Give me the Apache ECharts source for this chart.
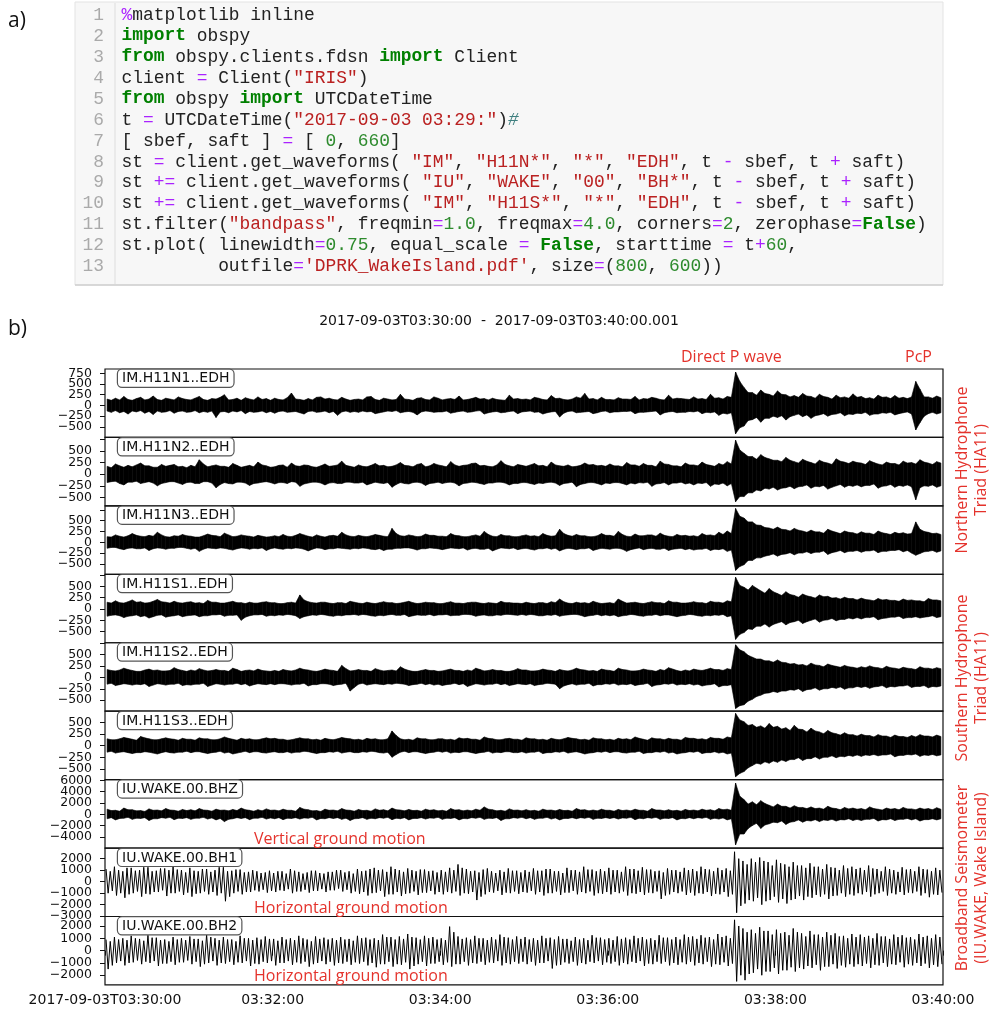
<!DOCTYPE html>
<html>
<head>
<meta charset="utf-8">
<script src="https://cdn.jsdelivr.net/npm/echarts@6/dist/echarts.min.js"></script>
<style>
  body { margin: 0; background: #fff; }
  #main { width: 995px; height: 1011px; }
</style>
</head>
<body>
<div id="main"></div>
<script>
// bin width of the envelope arrays (seconds after 03:30:00)
const binSec = 3;

const stations = ['IM.H11N1..EDH', 'IM.H11N2..EDH', 'IM.H11N3..EDH', 'IM.H11S1..EDH', 'IM.H11S2..EDH',
  'IM.H11S3..EDH', 'IU.WAKE.00.BHZ', 'IU.WAKE.00.BH1', 'IU.WAKE.00.BH2'];
// hydrophones and BHZ look like a solid band, the horizontals like single wiggles
const drawAsBand = [true, true, true, true, true, true, true, false, false];

// y extents of each panel
const yMins = [-745, -680, -740, -745, -740, -735, -5980, -3030, -2790];
const yMaxs = [850, 790, 840, 765, 755, 748, 6120, 2920, 2770];
// tick values and labelled ticks
const hydroTicks = [-750, -500, -250, 0, 250, 500, 750];
const bhzTicks = [-6000, -4000, -2000, 0, 2000, 4000, 6000];
const bhTicks = [-3000, -2000, -1000, 0, 1000, 2000, 3000];
const yTicks = [hydroTicks, hydroTicks, hydroTicks, hydroTicks, hydroTicks, hydroTicks, bhzTicks, bhTicks, bhTicks];
const yLabels = [
  [750, 500, 250, 0, -250, -500],
  [500, 250, 0, -250, -500],
  [500, 250, 0, -250, -500],
  [500, 250, 0, -250, -500],
  [500, 250, 0, -250, -500],
  [500, 250, 0, -250, -500],
  [6000, 4000, 2000, 0, -2000, -4000],
  [2000, 1000, 0, -1000, -2000, -3000],
  [2000, 1000, 0, -1000, -2000]
];
const xTickSeconds = [0, 120, 240, 360, 480, 600];
const xTickLabels = ['2017-09-03T03:30:00', '03:32:00', '03:34:00', '03:36:00', '03:38:00', '03:40:00'];

// envelope (max / min per 3 s bin), one row = 60 s
const n1Hi = [
  150,120,170,130,210,140,120,160,190,130,150,220,140,120,170,150,130,200,160,140,
  130,170,210,140,120,160,150,190,250,130,140,170,120,180,150,130,200,140,160,120,
  170,140,130,180,290,150,140,120,160,130,190,200,150,170,140,130,190,150,120,140,
  150,130,200,210,140,120,170,150,130,140,260,150,140,120,170,180,140,130,200,170,
  130,150,160,140,220,130,140,160,190,150,160,130,170,140,130,120,240,150,160,140,
  150,130,190,170,140,130,230,160,170,140,130,150,200,170,280,150,160,130,190,140,
  140,130,180,150,150,140,210,130,160,150,190,170,140,130,240,150,170,160,150,140,
  200,150,160,140,260,170,180,150,210,190,780,560,420,300,300,240,360,280,260,220,
  340,260,250,200,230,190,280,220,210,170,260,210,190,150,240,180,200,170,270,190,
  210,160,180,150,240,190,200,160,230,170,190,160,200,560,380,200,200,170,220,180];
const n1Lo = [
  -130,-160,-120,-170,-140,-200,-130,-150,-120,-180,-140,-210,-130,-160,-150,-120,-180,-140,-130,-160,
  -150,-120,-170,-140,-160,-130,-280,-150,-140,-170,-130,-150,-120,-190,-140,-160,-150,-130,-170,-140,
  -180,-140,-130,-160,-150,-140,-170,-200,-140,-130,-160,-150,-130,-170,-140,-230,-150,-130,-160,-140,
  -160,-130,-150,-140,-190,-170,-150,-130,-140,-120,-170,-150,-140,-160,-220,-150,-130,-140,-160,-150,
  -150,-130,-180,-160,-140,-130,-160,-150,-130,-120,-200,-170,-150,-140,-170,-160,-140,-130,-190,-150,
  -140,-130,-160,-150,-200,-170,-150,-140,-270,-180,-140,-130,-170,-160,-150,-140,-190,-170,-140,-130,
  -170,-150,-150,-140,-140,-130,-190,-160,-160,-150,-140,-130,-220,-170,-150,-140,-170,-160,-160,-140,
  -150,-130,-190,-160,-170,-150,-230,-180,-200,-170,-660,-520,-480,-350,-330,-280,-390,-300,-300,-250,
  -280,-240,-340,-260,-230,-200,-260,-220,-300,-240,-220,-190,-250,-210,-200,-170,-240,-200,-210,-180,
  -190,-160,-230,-200,-200,-170,-180,-160,-220,-190,-170,-150,-200,-570,-400,-250,-190,-160,-200,-170];

const n2Hi = [
  170,140,220,180,150,190,160,200,240,180,180,150,150,210,170,190,210,160,170,140,
  190,160,310,220,160,180,200,170,170,150,230,190,150,170,190,160,260,200,180,150,
  160,190,200,150,240,180,170,200,190,160,150,180,220,170,180,200,280,190,170,150,
  200,170,160,190,230,180,190,160,170,200,250,190,180,160,210,230,160,180,230,200,
  180,160,270,200,170,190,200,230,240,180,190,170,160,200,290,210,180,160,210,190,
  170,200,230,180,190,160,260,200,180,170,200,160,170,190,240,200,210,180,190,170,
  220,180,180,160,250,200,200,170,230,190,190,160,280,220,210,180,180,160,240,200,
  200,180,260,210,190,170,230,200,270,220,730,520,450,380,380,320,420,360,330,300,
  300,270,360,300,270,240,320,280,250,220,300,260,240,210,330,280,260,230,280,250,
  240,210,290,250,220,200,260,230,230,200,280,240,250,220,310,260,240,210,270,240];
const n2Lo = [
  -180,-160,-150,-200,-230,-170,-170,-150,-200,-180,-160,-190,-250,-200,-180,-160,-160,-190,-220,-180,
  -170,-200,-200,-160,-160,-190,-290,-220,-180,-200,-210,-170,-170,-190,-240,-200,-190,-170,-160,-180,
  -210,-180,-180,-200,-160,-170,-260,-210,-190,-170,-170,-190,-230,-190,-180,-200,-200,-170,-170,-190,
  -190,-170,-230,-200,-170,-190,-200,-180,-280,-220,-180,-200,-210,-180,-170,-190,-240,-200,-190,-170,
  -200,-180,-170,-190,-250,-200,-190,-170,-180,-200,-220,-190,-190,-170,-170,-190,-230,-200,-200,-180,
  -180,-200,-220,-190,-200,-180,-170,-190,-240,-200,-190,-170,-270,-220,-200,-180,-180,-200,-230,-190,
  -200,-180,-180,-200,-230,-190,-210,-180,-190,-170,-260,-210,-200,-180,-230,-190,-190,-170,-210,-190,
  -230,-190,-200,-180,-260,-210,-220,-190,-250,-200,-590,-480,-480,-400,-400,-340,-360,-300,-320,-280,
  -340,-300,-290,-260,-310,-270,-260,-230,-300,-260,-270,-240,-320,-280,-250,-220,-280,-240,-260,-230,
  -270,-240,-240,-210,-300,-260,-250,-220,-280,-240,-260,-230,-270,-550,-290,-250,-260,-230,-280,-250];

const n3Hi = [
  130,120,170,140,120,150,200,160,140,130,160,140,230,170,130,120,150,140,180,150,
  140,120,120,150,190,160,150,130,210,170,130,140,170,150,140,120,160,140,120,130,
  150,130,180,140,130,160,200,170,140,120,170,140,120,150,160,140,230,170,140,130,
  160,140,130,150,180,160,140,130,320,200,150,140,170,150,130,140,190,160,160,140,
  140,130,200,160,150,130,130,150,170,140,250,180,140,130,180,150,150,130,130,150,
  170,140,150,130,200,160,140,150,300,200,160,140,180,150,150,130,130,150,200,160,
  160,140,250,180,140,130,190,150,150,170,170,140,210,160,140,130,180,150,160,140,
  150,130,200,160,170,150,230,180,260,200,780,600,560,470,470,400,390,340,330,300,
  350,300,290,260,320,280,260,230,280,240,240,210,300,260,230,200,260,230,220,190,
  240,210,210,180,260,220,200,180,230,200,220,190,200,470,300,250,230,200,210,180];
const n3Lo = [
  -140,-120,-120,-150,-170,-140,-130,-150,-150,-130,-190,-150,-130,-140,-160,-140,-140,-120,-120,-140,
  -160,-140,-210,-160,-130,-140,-150,-130,-140,-160,-180,-150,-130,-140,-160,-140,-150,-130,-190,-150,
  -130,-150,-160,-140,-150,-130,-140,-160,-200,-160,-130,-140,-170,-150,-150,-130,-140,-150,-160,-140,
  -150,-130,-140,-160,-170,-150,-190,-160,-160,-140,-140,-130,-130,-150,-180,-150,-150,-130,-140,-150,
  -170,-150,-130,-140,-150,-130,-180,-150,-140,-160,-160,-140,-200,-160,-130,-140,-150,-130,-170,-150,
  -140,-160,-180,-150,-150,-130,-160,-140,-200,-160,-140,-150,-170,-150,-150,-130,-190,-160,-140,-150,
  -160,-140,-140,-160,-210,-170,-150,-130,-170,-150,-140,-160,-160,-140,-190,-160,-150,-140,-170,-150,
  -180,-160,-160,-140,-190,-160,-170,-150,-210,-180,-650,-560,-520,-420,-420,-360,-360,-320,-300,-270,
  -320,-280,-270,-240,-290,-250,-250,-220,-260,-230,-230,-200,-280,-240,-220,-190,-240,-210,-210,-190,
  -230,-200,-200,-180,-240,-210,-210,-190,-190,-170,-220,-190,-250,-300,-260,-220,-210,-190,-230,-200];

const s1Hi = [
  150,130,180,140,130,160,200,150,160,130,140,170,210,160,150,130,170,140,130,150,
  160,130,140,120,190,150,150,130,130,150,170,140,140,120,150,130,130,150,160,140,
  140,120,120,140,150,130,310,200,160,140,130,150,150,130,120,140,140,120,170,150,
  130,120,150,130,120,140,160,140,140,120,130,150,170,140,120,130,150,140,140,120,
  120,140,160,130,130,120,140,150,150,130,120,140,130,120,170,140,140,130,130,120,
  150,130,120,140,140,120,160,140,220,160,130,120,150,130,140,120,170,140,120,130,
  140,120,220,170,130,140,150,130,120,140,160,140,140,120,180,150,150,130,130,140,
  160,140,140,120,170,150,150,130,180,160,700,520,480,420,520,460,400,350,450,380,
  340,300,380,320,300,260,330,290,270,240,310,270,280,240,250,220,260,230,230,200,
  240,210,200,180,230,200,210,190,190,170,220,190,200,180,180,160,230,200,200,180];
const s1Lo = [
  -160,-140,-130,-150,-190,-160,-150,-130,-170,-150,-200,-170,-140,-130,-180,-160,-150,-130,-170,-150,
  -140,-130,-170,-150,-150,-130,-130,-120,-160,-140,-140,-130,-250,-180,-150,-130,-130,-120,-160,-140,
  -150,-130,-140,-120,-130,-150,-210,-170,-150,-130,-140,-120,-130,-150,-160,-140,-150,-130,-130,-120,
  -140,-120,-130,-150,-160,-140,-150,-130,-120,-140,-140,-120,-170,-150,-130,-140,-140,-120,-150,-130,
  -130,-120,-150,-140,-140,-120,-120,-130,-160,-140,-130,-150,-150,-130,-140,-120,-120,-130,-140,-120,
  -140,-120,-130,-150,-150,-130,-140,-120,-160,-140,-130,-120,-120,-140,-170,-150,-140,-120,-150,-130,
  -150,-130,-170,-150,-140,-120,-130,-150,-160,-140,-140,-120,-150,-130,-130,-150,-170,-150,-140,-120,
  -130,-150,-160,-140,-150,-130,-140,-120,-170,-150,-670,-560,-520,-440,-450,-380,-380,-330,-400,-340,
  -310,-280,-350,-300,-280,-250,-320,-280,-250,-220,-290,-250,-240,-210,-260,-230,-230,-200,-220,-190,
  -220,-190,-190,-170,-240,-210,-200,-180,-180,-160,-210,-190,-190,-170,-200,-180,-170,-150,-190,-170];

const s2Hi = [
  170,150,140,160,200,170,150,130,130,160,180,150,160,140,140,150,210,170,150,130,
  160,140,190,160,140,150,170,150,150,130,200,170,130,150,160,140,180,150,140,130,
  150,130,170,150,140,160,200,170,160,140,130,150,180,160,150,130,260,190,140,150,
  170,150,150,130,190,160,140,150,160,140,230,180,150,130,130,150,170,150,150,130,
  140,160,180,150,150,130,160,140,200,170,140,150,170,150,150,130,130,150,190,160,
  160,140,140,150,180,160,150,130,170,150,140,160,200,170,160,140,150,130,180,160,
  150,130,200,170,160,140,140,150,180,160,150,130,170,150,210,180,150,130,160,140,
  180,160,150,170,200,170,170,150,190,170,710,600,560,480,440,400,400,360,360,330,
  380,330,320,290,300,270,280,250,310,270,260,230,290,260,240,220,260,230,220,200,
  230,210,250,220,210,190,240,210,200,180,220,200,190,170,230,200,200,180,210,190];
const s2Lo = [
  -150,-130,-180,-160,-140,-150,-170,-150,-160,-140,-200,-170,-140,-150,-170,-150,-150,-130,-180,-160,
  -170,-150,-150,-130,-200,-170,-140,-150,-170,-150,-150,-130,-160,-140,-190,-160,-140,-150,-160,-140,
  -160,-140,-140,-150,-170,-150,-150,-130,-190,-160,-160,-140,-140,-150,-180,-160,-150,-130,-300,-220,
  -150,-130,-170,-150,-140,-150,-160,-140,-150,-130,-140,-150,-180,-160,-150,-130,-160,-140,-170,-150,
  -180,-160,-150,-130,-160,-140,-200,-170,-140,-150,-170,-150,-150,-130,-160,-140,-180,-160,-140,-150,
  -160,-140,-180,-160,-150,-130,-140,-150,-250,-190,-160,-140,-170,-150,-150,-130,-190,-160,-160,-140,
  -150,-130,-170,-150,-160,-140,-180,-160,-150,-130,-200,-170,-160,-140,-150,-130,-170,-150,-160,-140,
  -170,-150,-190,-170,-160,-140,-210,-180,-180,-160,-680,-620,-600,-520,-480,-420,-390,-350,-340,-310,
  -330,-300,-300,-270,-280,-250,-310,-270,-260,-230,-280,-250,-250,-220,-240,-210,-260,-230,-230,-200,
  -220,-200,-240,-210,-200,-180,-230,-200,-210,-190,-190,-170,-220,-200,-200,-180,-230,-200,-210,-190];

const s3Hi = [
  150,130,130,150,180,160,140,120,200,170,150,130,130,150,170,150,140,120,160,140,
  140,120,170,150,150,130,130,150,190,160,140,120,160,140,150,130,130,150,170,150,
  160,140,140,120,130,150,170,150,150,130,140,120,160,140,130,150,180,160,150,130,
  140,120,160,140,150,130,130,150,320,220,150,130,140,120,170,150,150,130,130,150,
  150,130,140,120,170,150,160,140,140,120,190,160,150,130,130,150,160,140,140,120,
  170,150,150,130,140,120,160,140,130,150,180,160,150,130,140,120,170,150,150,130,
  140,120,160,140,150,130,190,160,140,120,170,150,150,130,160,140,140,120,180,160,
  160,140,150,130,180,160,160,140,190,170,700,560,520,440,460,400,430,380,480,400,
  420,360,390,330,440,360,350,300,380,320,300,260,330,280,260,230,280,240,240,210,
  250,220,220,190,240,210,210,180,230,200,200,180,220,190,240,210,210,190,230,200];
const s3Lo = [
  -140,-120,-160,-140,-130,-150,-170,-150,-150,-130,-140,-160,-180,-150,-130,-150,-160,-140,-140,-120,
  -150,-130,-130,-150,-170,-150,-140,-120,-160,-140,-180,-160,-140,-120,-150,-130,-130,-150,-160,-140,
  -130,-150,-150,-130,-160,-140,-140,-120,-130,-150,-170,-150,-150,-130,-140,-120,-160,-140,-130,-150,
  -150,-130,-140,-120,-130,-150,-160,-140,-250,-190,-140,-120,-150,-130,-130,-150,-170,-150,-140,-120,
  -140,-120,-160,-140,-150,-130,-130,-150,-170,-150,-140,-120,-160,-140,-150,-130,-130,-150,-150,-130,
  -160,-140,-140,-120,-170,-150,-150,-130,-140,-120,-160,-140,-130,-150,-180,-160,-150,-130,-140,-120,
  -150,-130,-130,-150,-160,-140,-140,-120,-170,-150,-150,-130,-140,-120,-160,-140,-180,-160,-150,-130,
  -140,-120,-170,-150,-150,-130,-160,-140,-180,-160,-670,-600,-560,-480,-430,-380,-400,-350,-380,-330,
  -360,-310,-340,-300,-300,-260,-320,-280,-280,-240,-290,-250,-250,-220,-260,-230,-240,-210,-230,-200,
  -230,-200,-210,-190,-220,-200,-200,-180,-240,-210,-210,-190,-200,-180,-230,-200,-210,-190,-220,-200];

const bhzHi = [
  900,650,700,550,1100,800,800,600,650,500,950,700,750,600,1000,750,700,550,850,650,
  800,600,1000,750,700,550,900,700,750,600,850,650,1100,800,700,550,800,600,950,700,
  750,600,900,700,700,550,1200,900,800,600,650,500,900,700,750,600,1000,750,700,550,
  850,650,700,550,950,700,800,600,1100,800,750,600,850,650,700,550,900,700,800,600,
  700,550,1000,750,800,600,750,600,900,700,1300,900,800,600,700,550,950,700,750,600,
  800,600,700,550,900,700,750,600,850,650,700,550,1000,750,800,600,750,600,900,700,
  700,550,850,650,750,600,900,700,700,550,1000,750,750,600,800,600,700,550,850,650,
  750,600,900,700,800,600,1000,800,900,700,5500,3200,2600,1800,2200,1700,2400,1900,1600,1300,
  1800,1400,1400,1100,1500,1200,1200,1000,1300,1000,1100,900,1400,1100,1000,800,1200,950,1100,900,
  1000,800,1300,1000,900,750,1100,900,1000,800,1200,950,950,800,1100,900,1000,800,1150,900];
const bhzLo = [
  -800,-600,-1000,-750,-700,-550,-900,-700,-750,-600,-1100,-800,-800,-600,-700,-550,-950,-700,-750,-600,
  -900,-700,-700,-550,-850,-650,-1000,-750,-1300,-900,-800,-600,-750,-600,-950,-700,-700,-550,-850,-650,
  -800,-600,-950,-700,-750,-600,-850,-650,-700,-550,-1000,-750,-800,-600,-750,-600,-900,-700,-1100,-800,
  -750,-600,-900,-700,-800,-600,-700,-550,-950,-700,-800,-600,-1000,-750,-750,-600,-850,-650,-700,-550,
  -900,-700,-750,-600,-1000,-750,-800,-600,-700,-550,-900,-700,-750,-600,-1100,-800,-800,-600,-700,-550,
  -800,-600,-900,-700,-700,-550,-850,-650,-1000,-750,-750,-600,-800,-600,-700,-550,-900,-700,-750,-600,
  -750,-600,-850,-650,-700,-550,-950,-700,-800,-600,-700,-550,-900,-700,-750,-600,-1000,-750,-800,-600,
  -800,-600,-700,-550,-900,-700,-850,-650,-1000,-800,-5400,-3500,-3500,-2500,-2000,-1600,-2500,-1900,-1700,-1400,
  -1500,-1200,-1800,-1400,-1300,-1000,-1400,-1100,-1200,-950,-1300,-1000,-1100,-900,-1200,-950,-1000,-800,-1100,-900,
  -1100,-900,-900,-750,-1200,-950,-1000,-800,-1100,-900,-900,-750,-1000,-800,-1200,-950,-950,-800,-1000,-800];

const bh1Hi = [
  1100,900,1300,1000,900,1200,1200,950,1000,1250,1250,900,950,1150,1150,1000,1300,1050,1000,800,
  1200,950,900,1100,1100,850,1000,1250,1250,900,950,1050,1050,800,850,1000,900,750,800,950,
  750,900,900,700,1100,950,850,700,800,950,950,750,700,850,850,1000,1000,800,900,700,
  1100,900,950,1100,1200,1000,1050,850,1300,1100,1000,850,1150,1000,900,1050,1050,900,950,800,
  1000,850,1200,1000,1500,1200,1100,900,950,800,1050,1150,900,750,1000,850,1150,950,950,800,
  1000,850,1150,950,950,1100,1100,900,900,750,1200,1000,1000,850,1300,1050,1050,900,1100,900,
  1200,1000,1000,850,1300,1100,1100,950,1250,1050,1050,900,950,800,1150,1000,1000,850,1200,1000,
  1100,900,1300,1100,1050,900,1200,1000,1150,950,2600,2000,1800,1500,2000,1700,2100,1800,1700,1400,
  1900,1600,1500,1300,1700,1400,1400,1200,1600,1300,1300,1100,1500,1250,1200,1000,1400,1150,1300,1100,
  1200,1000,1400,1150,1100,900,1300,1100,1000,850,1250,1050,1100,900,1300,1100,1050,900,1200,1000];
const bh1Lo = [
  -1000,-800,-1200,-1000,-1400,-1100,-1000,-850,-1300,-1050,-1100,-900,-900,-750,-1250,-1000,-1000,-850,-1150,-950,
  -1300,-1050,-1000,-850,-1100,-900,-1200,-1000,-1700,-1300,-1000,-850,-1100,-900,-900,-750,-850,-700,-950,-800,
  -900,-750,-800,-650,-1000,-850,-850,-700,-950,-800,-800,-650,-900,-750,-750,-600,-850,-700,-1000,-850,
  -1050,-900,-1200,-1000,-950,-800,-1300,-1100,-1100,-900,-1250,-1050,-1000,-850,-1150,-950,-950,-800,-1100,-900,
  -1100,-900,-1000,-850,-1200,-1000,-1050,-900,-1600,-1300,-1100,-900,-950,-800,-1150,-950,-1000,-850,-1050,-900,
  -950,-800,-1100,-900,-1200,-1000,-1000,-850,-1150,-950,-950,-800,-1100,-900,-1000,-850,-1200,-1000,-1050,-900,
  -1100,-900,-1000,-850,-1200,-1000,-1050,-900,-1150,-950,-1000,-850,-1500,-1200,-1100,-900,-1000,-850,-1150,-950,
  -1200,-1000,-1050,-900,-1250,-1050,-1100,-900,-1300,-1100,-2700,-2100,-1900,-1600,-1700,-1400,-2000,-1700,-1600,-1300,
  -1800,-1500,-1900,-1600,-1500,-1250,-1600,-1300,-1400,-1150,-1300,-1100,-1500,-1250,-1200,-1000,-1300,-1100,-1200,-1000,
  -1100,-900,-1300,-1100,-1000,-850,-1200,-1000,-1100,-900,-1150,-950,-1000,-850,-1200,-1000,-1350,-1100,-1150,-950];

const bh2Hi = [
  900,750,1100,900,1000,850,1200,1000,950,800,1250,1050,1050,850,900,750,1100,900,1000,850,
  1150,950,950,800,1300,1100,1000,850,1100,900,900,750,1200,1000,1000,850,1050,900,1150,950,
  950,800,1100,900,1000,850,1200,1000,900,750,1150,950,1050,900,1000,850,1100,900,950,800,
  1200,1000,1050,900,1000,850,1300,1100,1100,900,1150,950,1350,1100,1050,900,1200,1000,1100,900,
  1000,850,1950,1500,1150,950,1050,900,1200,1000,1000,850,1100,900,1300,1100,1050,900,1150,950,
  1100,900,1000,850,1200,1000,1050,900,1150,950,950,800,1100,900,1000,850,1250,1050,1050,900,
  1000,850,1150,950,1050,900,1200,1000,1100,900,1000,850,1250,1050,1050,900,1100,900,1300,1100,
  1150,950,1250,1050,1100,900,1350,1100,1200,1000,2500,2000,1800,1500,1700,1400,1900,1600,1600,1300,
  1700,1400,1500,1250,1800,1500,1400,1150,1600,1300,1300,1100,1500,1250,1400,1150,1200,1000,1350,1100,
  1300,1100,1200,1000,1400,1150,1150,950,1300,1100,1250,1050,1100,900,1350,1100,1200,1000,1300,1100];
const bh2Lo = [
  -1500,-1200,-1000,-850,-1200,-1000,-950,-800,-1100,-900,-1000,-850,-1250,-1050,-1050,-900,-1150,-950,-950,-800,
  -1100,-900,-1300,-1100,-1000,-850,-1200,-1000,-1050,-900,-1150,-950,-1000,-850,-1250,-1050,-1100,-900,-1000,-850,
  -1200,-1000,-1000,-850,-1150,-950,-1050,-900,-1300,-1100,-1000,-850,-1100,-900,-1200,-1000,-1050,-900,-1150,-950,
  -1050,-900,-1200,-1000,-1350,-1100,-1100,-900,-1300,-1100,-1150,-950,-1500,-1250,-1100,-900,-1250,-1050,-1050,-900,
  -1150,-950,-1300,-1100,-1100,-900,-1200,-1000,-1050,-900,-1150,-950,-1000,-850,-1200,-1000,-1100,-900,-1050,-900,
  -1100,-900,-1200,-1000,-1000,-850,-1450,-1200,-1150,-950,-1050,-900,-1200,-1000,-1100,-900,-1000,-850,-1150,-950,
  -1050,-900,-1200,-1000,-1100,-900,-1000,-850,-1250,-1050,-1100,-900,-1050,-900,-1200,-1000,-1150,-950,-1100,-900,
  -1200,-1000,-1100,-900,-1300,-1100,-1150,-950,-1250,-1050,-2500,-2000,-2400,-1900,-1800,-1500,-2000,-1700,-1700,-1400,
  -1900,-1600,-1600,-1350,-1700,-1400,-1500,-1250,-1400,-1150,-1600,-1300,-1300,-1100,-1450,-1200,-1350,-1100,-1300,-1100,
  -1250,-1050,-1400,-1150,-1200,-1000,-1300,-1100,-1150,-950,-1350,-1100,-1200,-1000,-1250,-1050,-1400,-1150,-1300,-1100];

const traceHi = [n1Hi, n2Hi, n3Hi, s1Hi, s2Hi, s3Hi, bhzHi, bh1Hi, bh2Hi];
const traceLo = [n1Lo, n2Lo, n3Lo, s1Lo, s2Lo, s3Lo, bhzLo, bh1Lo, bh2Lo];

// code cell of part a), as [style, text] tokens
const codeLines = [
  [['o', '%'], ['p', 'matplotlib inline']],
  [['k', 'import'], ['p', ' obspy']],
  [['k', 'from'], ['p', ' obspy.clients.fdsn '], ['k', 'import'], ['p', ' Client']],
  [['p', 'client '], ['o', '='], ['p', ' Client('], ['s', '"IRIS"'], ['p', ')']],
  [['k', 'from'], ['p', ' obspy '], ['k', 'import'], ['p', ' UTCDateTime']],
  [['p', 't '], ['o', '='], ['p', ' UTCDateTime('], ['s', '"2017-09-03 03:29:"'], ['p', ')'], ['c', '#']],
  [['p', '[ sbef, saft ] '], ['o', '='], ['p', ' [ '], ['n', '0'], ['p', ', '], ['n', '660'], ['p', ']']],
  [['p', 'st '], ['o', '='], ['p', ' client.get_waveforms( '], ['s', '"IM"'], ['p', ', '], ['s', '"H11N*"'], ['p', ', '],
    ['s', '"*"'], ['p', ', '], ['s', '"EDH"'], ['p', ', t '], ['o', '-'], ['p', ' sbef, t '], ['o', '+'], ['p', ' saft)']],
  [['p', 'st '], ['o', '+='], ['p', ' client.get_waveforms( '], ['s', '"IU"'], ['p', ', '], ['s', '"WAKE"'], ['p', ', '],
    ['s', '"00"'], ['p', ', '], ['s', '"BH*"'], ['p', ', t '], ['o', '-'], ['p', ' sbef, t '], ['o', '+'], ['p', ' saft)']],
  [['p', 'st '], ['o', '+='], ['p', ' client.get_waveforms( '], ['s', '"IM"'], ['p', ', '], ['s', '"H11S*"'], ['p', ', '],
    ['s', '"*"'], ['p', ', '], ['s', '"EDH"'], ['p', ', t '], ['o', '-'], ['p', ' sbef, t '], ['o', '+'], ['p', ' saft)']],
  [['p', 'st.filter('], ['s', '"bandpass"'], ['p', ', freqmin'], ['o', '='], ['n', '1.0'], ['p', ', freqmax'], ['o', '='],
    ['n', '4.0'], ['p', ', corners'], ['o', '='], ['n', '2'], ['p', ', zerophase'], ['o', '='], ['k', 'False'], ['p', ')']],
  [['p', 'st.plot( linewidth'], ['o', '='], ['n', '0.75'], ['p', ', equal_scale '], ['o', '='], ['p', ' '], ['k', 'False'],
    ['p', ', starttime '], ['o', '='], ['p', ' t'], ['o', '+'], ['n', '60'], ['p', ',']],
  [['p', '         outfile'], ['o', '='], ['s', "'DPRK_WakeIsland.pdf'"], ['p', ', size'], ['o', '='], ['p', '('],
    ['n', '800'], ['p', ', '], ['n', '600'], ['p', '))']]
];

const RED = '#e4322b';
const MONO = '"Liberation Mono", "DejaVu Sans Mono", monospace';
const SANS = '"DejaVu Sans", sans-serif';
const NOTE = '"Open Sans", "Noto Sans", sans-serif';

const panelTop = 369;
const panelH = 68.44;
const plotLeft = 105;
const plotW = 838;

let chart = echarts.init(document.getElementById('main'));

let grids = [], xAxes = [], yAxes = [], series = [], graphics = [];

// one quad of the envelope band between bin i and bin i + 1
function bandItem(params, api) {
  const t0 = api.value(0), t1 = api.value(3);
  if (isNaN(t1)) return null;
  const p = [
    api.coord([t0, api.value(1)]), api.coord([t1, api.value(4)]),
    api.coord([t1, api.value(5)]), api.coord([t0, api.value(2)])
  ];
  return {
    type: 'polygon', shape: { points: p },
    style: { fill: '#000', stroke: '#000', lineWidth: 0.6 }
  };
}

stations.forEach((name, k) => {
  const last = k === stations.length - 1;
  grids.push({
    left: plotLeft, width: plotW, top: panelTop + k * panelH, height: panelH,
    show: true, borderColor: '#111', borderWidth: 1.2, backgroundColor: 'transparent'
  });
  xAxes.push({
    type: 'value', gridIndex: k, min: 0, max: 600,
    axisLine: { show: false },
    splitLine: { show: false },
    axisTick: { show: last, length: 5, lineStyle: { color: '#111' }, customValues: xTickSeconds },
    axisLabel: {
      show: last, margin: 8, color: '#111', fontSize: 14, fontFamily: SANS,
      showMinLabel: true, showMaxLabel: true,
      customValues: xTickSeconds,
      formatter: v => xTickLabels[xTickSeconds.indexOf(v)]
    }
  });
  const inside = yTicks[k].filter(v => v >= yMins[k] - 1 && v <= yMaxs[k] + 1);
  yAxes.push({
    type: 'value', gridIndex: k, min: yMins[k], max: yMaxs[k],
    axisLine: { show: false },
    splitLine: { show: false },
    axisTick: { show: true, length: 5, lineStyle: { color: '#111' }, customValues: inside },
    axisLabel: { show: false }
  });
  const hi = traceHi[k], lo = traceLo[k];
  if (drawAsBand[k]) {
    // [t, hi, lo, next t, next hi, next lo]
    const items = hi.map((v, i) => [
      i * binSec + binSec / 2, v, lo[i],
      i + 1 < hi.length ? (i + 1) * binSec + binSec / 2 : NaN,
      i + 1 < hi.length ? hi[i + 1] : NaN,
      i + 1 < hi.length ? lo[i + 1] : NaN
    ]);
    series.push({
      type: 'custom', xAxisIndex: k, yAxisIndex: k, data: items, silent: true,
      encode: { x: 0, y: [1, 2] }, renderItem: bandItem
    });
  } else {
    const pts = [];
    hi.forEach((h, i) => {
      pts.push([i * binSec + binSec * 0.25, h]);
      pts.push([i * binSec + binSec * 0.75, lo[i]]);
    });
    series.push({
      type: 'line', xAxisIndex: k, yAxisIndex: k, data: pts,
      showSymbol: false, symbol: 'none', silent: true,
      lineStyle: { color: '#000', width: 1 }
    });
  }
  // station name box
  graphics.push({
    type: 'text', x: 118, y: panelTop + k * panelH + 0.8, z: 50,
    style: {
      text: name, font: '14px ' + SANS, fill: '#111',
      backgroundColor: '#fff', borderColor: '#555', borderWidth: 1.2, borderRadius: 4,
      padding: [2, 4, 1, 4]
    }
  });
});

// part a) code cell
graphics.push({
  type: 'rect', shape: { x: 75, y: 2, width: 868, height: 283 },
  style: { fill: '#f7f7f7', stroke: '#e3e3e3', lineWidth: 1 }, z: 1
});
graphics.push({
  type: 'line', shape: { x1: 75, y1: 285, x2: 943, y2: 285 },
  style: { stroke: '#cfcfcf', lineWidth: 1.5 }, z: 2
});
graphics.push({
  type: 'line', shape: { x1: 115, y1: 3, x2: 115, y2: 284 },
  style: { stroke: '#dddddd', lineWidth: 1 }, z: 2
});
const richCode = {
  k: { fill: '#008000', fontWeight: 'bold', fontFamily: MONO, fontSize: 17.9 },
  s: { fill: '#ba2121', fontFamily: MONO, fontSize: 17.9 },
  n: { fill: '#2e8b2e', fontFamily: MONO, fontSize: 17.9 },
  o: { fill: '#aa22ff', fontFamily: MONO, fontSize: 17.9 },
  c: { fill: '#408080', fontStyle: 'italic', fontFamily: MONO, fontSize: 17.9 },
  p: { fill: '#222', fontFamily: MONO, fontSize: 17.9 }
};
codeLines.forEach((tokens, i) => {
  const y = 15 + i * 20.97;
  graphics.push({
    type: 'text', x: 104, y: y, z: 3,
    style: { text: String(i + 1), font: '17.9px ' + MONO, fill: '#aaa', align: 'right', verticalAlign: 'middle' }
  });
  graphics.push({
    type: 'text', x: 121.5, y: y, z: 3,
    style: {
      text: tokens.map(t => '{' + t[0] + '|' + t[1] + '}').join(''),
      rich: richCode, font: '17.9px ' + MONO, fill: '#222', verticalAlign: 'middle'
    }
  });
});

// panel letters and title
graphics.push({ type: 'text', x: 8, y: 21, style: { text: 'a)', font: '21px ' + NOTE, fill: '#111', verticalAlign: 'middle' } });
graphics.push({ type: 'text', x: 8, y: 329, style: { text: 'b)', font: '21px ' + NOTE, fill: '#111', verticalAlign: 'middle' } });
graphics.push({
  type: 'text', x: 499, y: 321,
  style: { text: '2017-09-03T03:30:00  -  2017-09-03T03:40:00.001', font: '14px ' + SANS, fill: '#111', align: 'center', verticalAlign: 'middle' }
});

// red annotations
const notes = [
  ['Direct P wave', 681, 357],
  ['PcP', 905, 357],
  ['Vertical ground motion', 254, 839],
  ['Horizontal ground motion', 254, 908],
  ['Horizontal ground motion', 254, 976]
];
notes.forEach(n => graphics.push({
  type: 'text', x: n[1], y: n[2], z: 60,
  style: { text: n[0], font: '16px ' + NOTE, fill: RED, verticalAlign: 'middle' }
}));
const sideNotes = [
  ['Northern Hydrophone\nTriad (HA11)', 470],
  ['Southern Hydrophone\nTriad (HA11)', 678],
  ['Broadband Seismometer\n(IU.WAKE, Wake Island)', 878]
];
sideNotes.forEach(n => graphics.push({
  type: 'text', x: 972, y: n[1], rotation: Math.PI / 2, z: 60,
  style: { text: n[0], font: '16px ' + NOTE, fill: RED, align: 'center', verticalAlign: 'middle', lineHeight: 19 }
}));

let option = {
  animation: false,
  backgroundColor: '#fff',
  grid: grids,
  xAxis: xAxes,
  yAxis: yAxes,
  series: series
};
chart.setOption(option);

// y tick labels placed through each panel's own y scale (matplotlib lets them overlap)
yLabels.forEach((vals, k) => {
  vals.forEach(v => {
    const y = chart.convertToPixel({ yAxisIndex: k }, v);
    graphics.push({
      type: 'text', x: plotLeft - 13, y: y, z: 40,
      style: {
        text: v < 0 ? '\u2212' + Math.abs(v) : String(v),
        font: '12.5px ' + SANS, fill: '#111', align: 'right', verticalAlign: 'middle'
      }
    });
  });
});
chart.setOption({ graphic: graphics });
</script>
</body>
</html>
